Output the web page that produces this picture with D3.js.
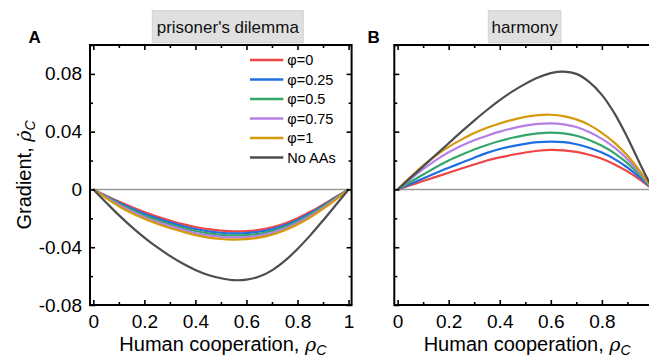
<!DOCTYPE html>
<html>
<head>
<meta charset="utf-8">
<script src="https://cdn.jsdelivr.net/npm/d3@7"></script>
<style>
  html, body { margin: 0; padding: 0; background: #fff; }
  svg { display: block; font-family: "Liberation Sans", Arial, sans-serif; }
</style>
</head>
<body>
<svg id="chart" width="649" height="358"></svg>
<script>
// ---------------- DATA ----------------
const rhoC = [0, 0.05, 0.1, 0.15, 0.2, 0.25, 0.3, 0.35, 0.4, 0.45, 0.5,
              0.55, 0.6, 0.65, 0.7, 0.75, 0.8, 0.85, 0.9, 0.95, 1];

const seriesNames = ["φ=0", "φ=0.25", "φ=0.5", "φ=0.75", "φ=1", "No AAs"];
const seriesColors = ["#f04545", "#1f6fe3", "#35a66a", "#b57fe6", "#d49a08", "#4d4d4d"];

// Panel A: prisoner's dilemma
const pdPhi0   = [0, -0.0043, -0.0084, -0.0122, -0.0157, -0.0188, -0.0215, -0.0240, -0.0260, -0.0275, -0.0285,
                  -0.0290, -0.0288, -0.0280, -0.0262, -0.0236, -0.0200, -0.0155, -0.0105, -0.0052, 0];
const pdPhi025 = [0, -0.0047, -0.0092, -0.0132, -0.0168, -0.0200, -0.0228, -0.0253, -0.0274, -0.0290, -0.0300,
                  -0.0304, -0.0302, -0.0293, -0.0275, -0.0248, -0.0211, -0.0165, -0.0113, -0.0056, 0];
const pdPhi05  = [0, -0.0051, -0.0100, -0.0142, -0.0180, -0.0212, -0.0241, -0.0266, -0.0288, -0.0304, -0.0314,
                  -0.0318, -0.0316, -0.0307, -0.0288, -0.0260, -0.0222, -0.0174, -0.0120, -0.0061, 0];
const pdPhi075 = [0, -0.0055, -0.0108, -0.0152, -0.0192, -0.0225, -0.0254, -0.0279, -0.0302, -0.0318, -0.0328,
                  -0.0332, -0.0330, -0.0320, -0.0301, -0.0271, -0.0232, -0.0184, -0.0128, -0.0066, 0];
const pdPhi1   = [0, -0.0060, -0.0116, -0.0163, -0.0203, -0.0237, -0.0267, -0.0292, -0.0316, -0.0333, -0.0343,
                  -0.0347, -0.0344, -0.0334, -0.0314, -0.0283, -0.0243, -0.0193, -0.0135, -0.0070, 0];
const pdNoAA   = [0, -0.0090, -0.0178, -0.0259, -0.0333, -0.0400, -0.0460, -0.0513, -0.0557, -0.0592, -0.0615,
                  -0.0628, -0.0624, -0.0603, -0.0560, -0.0495, -0.0412, -0.0318, -0.0215, -0.0108, 0];

// Panel B: harmony
const hmPhi0   = [0, 0.0029, 0.0058, 0.0087, 0.0116, 0.0145, 0.0173, 0.0200, 0.0222, 0.0240, 0.0256,
                  0.0268, 0.0274, 0.0271, 0.0260, 0.0240, 0.0212, 0.0173, 0.0125, 0.0067, 0];
const hmPhi025 = [0, 0.0038, 0.0076, 0.0114, 0.0150, 0.0185, 0.0220, 0.0253, 0.0280, 0.0300, 0.0316,
                  0.0327, 0.0331, 0.0327, 0.0313, 0.0289, 0.0255, 0.0210, 0.0152, 0.0082, 0];
const hmPhi05  = [0, 0.0052, 0.0103, 0.0154, 0.0200, 0.0240, 0.0277, 0.0308, 0.0335, 0.0358, 0.0376,
                  0.0388, 0.0393, 0.0388, 0.0372, 0.0343, 0.0302, 0.0250, 0.0182, 0.0098, 0];
const hmPhi075 = [0, 0.0072, 0.0140, 0.0203, 0.0257, 0.0302, 0.0340, 0.0372, 0.0400, 0.0423, 0.0442,
                  0.0454, 0.0458, 0.0451, 0.0432, 0.0397, 0.0350, 0.0290, 0.0210, 0.0112, 0];
const hmPhi1   = [0, 0.0085, 0.0165, 0.0235, 0.0295, 0.0345, 0.0390, 0.0427, 0.0457, 0.0482, 0.0502,
                  0.0514, 0.0517, 0.0508, 0.0485, 0.0447, 0.0392, 0.0322, 0.0235, 0.0125, 0];
const hmNoAA   = [0, 0.0080, 0.0160, 0.0240, 0.0320, 0.0400, 0.0477, 0.0550, 0.0618, 0.0679, 0.0731,
                  0.0775, 0.0805, 0.0815, 0.0800, 0.0745, 0.0655, 0.0525, 0.0360, 0.0175, 0];

const xMajorTicks = [0, 0.2, 0.4, 0.6, 0.8, 1];
const xTickLabels = ["0", "0.2", "0.4", "0.6", "0.8", "1"];
const xMinorTicks = [0.1, 0.3, 0.5, 0.7, 0.9];
const yMajorTicks = [-0.08, -0.04, 0, 0.04, 0.08];
const yTickLabels = ["-0.08", "-0.04", "0", "0.04", "0.08"];
const yMinorTicks = [-0.06, -0.02, 0.02, 0.06, 0.1];

const panelTitles = ["prisoner's dilemma", "harmony"];
const panelLetters = ["A", "B"];

// ---------------- DRAW ----------------
const W = 649;
const svg = d3.select("#chart");
const plotTop = 45, plotBottom = 305;
const panels = [
  { left: 90,    right: 351.6, series: [pdPhi0, pdPhi025, pdPhi05, pdPhi075, pdPhi1, pdNoAA],
    yLabels: true, legend: true, box: { x: 152.3, w: 151 }, letterX: 28.5 },
  { left: 394.3, right: 656,   series: [hmPhi0, hmPhi025, hmPhi05, hmPhi075, hmPhi1, hmNoAA],
    yLabels: false, legend: false, box: { x: 488.3, w: 72.7 }, letterX: 367.5 }
];

const defs = svg.append("defs");

panels.forEach((p, pi) => {
  const x = d3.scaleLinear().domain([-0.013, 1.012]).range([p.left, p.right]);
  const y = d3.scaleLinear().domain([-0.08, 0.1]).range([plotBottom, plotTop]);
  const g = svg.append("g");

  const clipId = "clip" + pi;
  defs.append("clipPath").attr("id", clipId)
    .append("rect").attr("x", p.left).attr("y", plotTop)
    .attr("width", p.right - p.left).attr("height", plotBottom - plotTop);

  // zero line
  g.append("line")
    .attr("x1", p.left).attr("x2", p.right)
    .attr("y1", y(0)).attr("y2", y(0))
    .attr("stroke", "#9a9a9a").attr("stroke-width", 1.6);

  // curves
  const line = d3.line()
    .x((d, i) => x(rhoC[i]))
    .y(d => y(d))
    .curve(d3.curveCatmullRom.alpha(0.5));
  const cg = g.append("g").attr("clip-path", `url(#${clipId})`);
  p.series.forEach((s, si) => {
    cg.append("path")
      .datum(s)
      .attr("d", line)
      .attr("fill", "none")
      .attr("stroke", seriesColors[si])
      .attr("stroke-width", 2.2);
  });

  // axes (inward ticks)
  const styleAxis = sel => {
    sel.select(".domain").remove();
    sel.selectAll(".tick line").attr("stroke", "#000").attr("stroke-width", 1.6);
    sel.selectAll("text").attr("font-family", "Liberation Sans, Arial, sans-serif")
      .attr("font-size", 19).attr("fill", "#000");
  };
  // labels only for ticks that fit inside the window
  const xLabel = (d, i) => (x(d) + 6 <= W ? xTickLabels[i] : "");
  g.append("g").attr("transform", `translate(0,${plotBottom})`)
    .call(d3.axisBottom(x).tickValues(xMajorTicks).tickSizeInner(-5).tickSizeOuter(0)
      .tickPadding(9.5).tickFormat(xLabel))
    .call(styleAxis);
  g.append("g").attr("transform", `translate(0,${plotBottom})`)
    .call(d3.axisBottom(x).tickValues(xMinorTicks).tickSizeInner(-3).tickSizeOuter(0).tickFormat(""))
    .call(styleAxis);
  g.append("g").attr("transform", `translate(0,${plotTop})`)
    .call(d3.axisTop(x).tickValues(xMajorTicks).tickSizeInner(-5).tickSizeOuter(0).tickFormat(""))
    .call(styleAxis);
  g.append("g").attr("transform", `translate(0,${plotTop})`)
    .call(d3.axisTop(x).tickValues(xMinorTicks).tickSizeInner(-3).tickSizeOuter(0).tickFormat(""))
    .call(styleAxis);
  g.append("g").attr("transform", `translate(${p.left},0)`)
    .call(d3.axisLeft(y).tickValues(yMajorTicks).tickSizeInner(-5).tickSizeOuter(0)
      .tickPadding(8).tickFormat((d, i) => p.yLabels ? yTickLabels[i] : ""))
    .call(styleAxis);
  g.append("g").attr("transform", `translate(${p.left},0)`)
    .call(d3.axisLeft(y).tickValues(yMinorTicks).tickSizeInner(-3).tickSizeOuter(0).tickFormat(""))
    .call(styleAxis);
  g.append("g").attr("transform", `translate(${p.right},0)`)
    .call(d3.axisRight(y).tickValues(yMajorTicks).tickSizeInner(-5).tickSizeOuter(0).tickFormat(""))
    .call(styleAxis);
  g.append("g").attr("transform", `translate(${p.right},0)`)
    .call(d3.axisRight(y).tickValues(yMinorTicks).tickSizeInner(-3).tickSizeOuter(0).tickFormat(""))
    .call(styleAxis);

  // frame
  g.append("rect")
    .attr("x", p.left).attr("y", plotTop)
    .attr("width", p.right - p.left).attr("height", plotBottom - plotTop)
    .attr("fill", "none").attr("stroke", "#000").attr("stroke-width", 2);

  // title box
  g.append("rect")
    .attr("x", p.box.x).attr("y", 10.7).attr("width", p.box.w).attr("height", 32)
    .attr("fill", "#e0e0e0").attr("stroke", "#d2d2d2").attr("stroke-width", 1);
  g.append("text")
    .attr("x", p.box.x + p.box.w / 2).attr("y", 32.5)
    .attr("text-anchor", "middle").attr("font-size", 17).attr("fill", "#111")
    .text(panelTitles[pi]);

  // panel letter
  g.append("text")
    .attr("x", p.letterX).attr("y", 43)
    .attr("font-size", 17).attr("font-weight", "bold").attr("fill", "#000")
    .text(panelLetters[pi]);

  // x axis title
  const xt = g.append("text")
    .attr("x", (p.left + p.right) / 2 + 2).attr("y", 351)
    .attr("text-anchor", "middle").attr("font-size", 20).attr("fill", "#000");
  xt.append("tspan").text("Human cooperation, ");
  xt.append("tspan").attr("font-style", "italic").attr("font-family", "DejaVu Serif, serif").attr("font-size", 19).text("ρ");
  xt.append("tspan").attr("font-style", "italic").attr("font-size", 14).attr("dy", 4).text("C");

  // legend
  if (p.legend) {
    const lg = g.append("g");
    seriesNames.forEach((n, i) => {
      const cy = 60 + i * 19.5;
      lg.append("line").attr("x1", 250).attr("x2", 283.3).attr("y1", cy).attr("y2", cy)
        .attr("stroke", seriesColors[i]).attr("stroke-width", 2.5);
      lg.append("text").attr("x", 287.3).attr("y", cy + 5.2)
        .attr("font-size", 14.5).attr("fill", "#000").text(n);
    });
  }
});

// y axis title
const yt = svg.append("text")
  .attr("transform", "translate(31,175) rotate(-90)")
  .attr("text-anchor", "middle").attr("font-size", 20).attr("fill", "#000");
yt.append("tspan").text("Gradient, ");
yt.append("tspan").attr("font-style", "italic").attr("font-family", "DejaVu Serif, serif").attr("font-size", 19).text("ρ\u0307");
yt.append("tspan").attr("font-style", "italic").attr("font-size", 14).attr("dy", 4).text("C");
</script>
</body>
</html>
